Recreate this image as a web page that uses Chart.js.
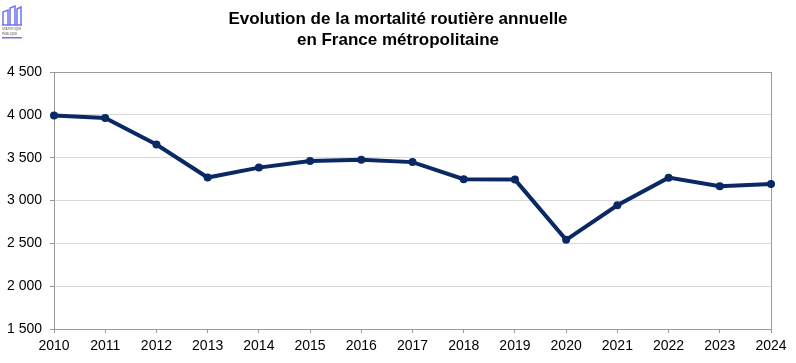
<!DOCTYPE html>
<html>
<head>
<meta charset="utf-8">
<script src="https://cdn.jsdelivr.net/npm/chart.js@4"></script>
<style>
  body { margin: 0; background: #fff; }
  canvas { display: block; }
</style>
</head>
<body>
<canvas id="chart" width="796" height="363"></canvas>
<script>
const years = ['2010', '2011', '2012', '2013', '2014', '2015', '2016', '2017', '2018', '2019', '2020', '2021', '2022', '2023', '2024'];
const deaths = [3992, 3963, 3653, 3268, 3384, 3461, 3477, 3448, 3248, 3244, 2541, 2944, 3267, 3167, 3193];
const yTicks = [1500, 2000, 2500, 3000, 3500, 4000, 4500];

const axisGray = '#9a9a9a';
const gridGray = '#d9d9d9';

// small "statistique publique" logo, top left
const logo = {
    id: 'logo',
    afterDraw(chart) {
        const c = chart.ctx;
        c.save();
        c.strokeStyle = '#6f73f0';
        c.fillStyle = '#6f73f0';
        c.lineWidth = 1.5;
        c.beginPath();
        c.moveTo(3, 25); c.lineTo(3, 12); c.lineTo(8, 10); c.lineTo(8, 25);
        c.moveTo(10, 25); c.lineTo(10, 8); c.lineTo(15, 6); c.lineTo(15, 25);
        c.moveTo(17, 25); c.lineTo(17, 9); c.lineTo(21, 7); c.lineTo(21, 25);
        c.moveTo(2, 25); c.lineTo(22, 25);
        c.stroke();
        c.fillRect(2, 37, 20, 1.5);
        c.fillStyle = '#555';
        c.font = '3px "Liberation Sans", Arial';
        c.textAlign = 'left';
        c.fillText('STATISTIQUE', 2, 30);
        c.fillText('PUBLIQUE', 2, 35);
        c.restore();
    }
};

new Chart(document.getElementById('chart'), {
    type: 'line',
    data: {
        labels: years,
        datasets: [{
            label: 'Tués',
            data: deaths,
            borderColor: '#0a2864',
            backgroundColor: '#0a2864',
            borderWidth: 4,
            pointRadius: 4,
            pointBorderWidth: 0,
            pointHoverRadius: 4,
            tension: 0
        }]
    },
    options: {
        responsive: false,
        animation: false,
        layout: { padding: 0 },
        plugins: {
            legend: { display: false },
            tooltip: { enabled: false },
            title: {
                display: true,
                text: ['Evolution de la mortalité routière annuelle', 'en France métropolitaine'],
                color: '#000',
                font: { family: '"Liberation Sans", Arial', size: 17, weight: 'bold', lineHeight: '21px' },
                padding: { top: 9, bottom: 21 }
            }
        },
        scales: {
            x: {
                offset: false,
                afterFit: s => { s.height = 34; },
                grid: {
                    color: ctx => ctx.index === years.length - 1 ? axisGray : 'rgba(0,0,0,0)',
                    tickColor: axisGray,
                    tickLength: 4
                },
                border: { color: axisGray },
                ticks: {
                    color: '#000',
                    autoSkip: false,
                    maxRotation: 0,
                    padding: 5,
                    font: { family: '"Liberation Sans", Arial', size: 14 }
                }
            },
            y: {
                min: yTicks[0],
                max: yTicks[yTicks.length - 1],
                afterFit: s => { s.width = 54; },
                afterBuildTicks: s => { s.ticks = yTicks.map(v => ({ value: v })); },
                grid: {
                    color: ctx => ctx.tick && ctx.tick.value === 4500 ? axisGray : gridGray,
                    tickColor: axisGray,
                    tickLength: 4
                },
                border: { color: axisGray },
                ticks: {
                    color: '#000',
                    padding: 8,
                    font: { family: '"Liberation Sans", Arial', size: 14 },
                    callback: v => String(v).replace(/\B(?=(\d{3})+(?!\d))/g, ' ')
                }
            },
            // empty right margin
            yRight: {
                position: 'right',
                afterFit: s => { s.width = 25; },
                grid: { display: false },
                border: { display: false },
                ticks: { display: false }
            }
        }
    },
    plugins: [logo]
});
</script>
</body>
</html>
